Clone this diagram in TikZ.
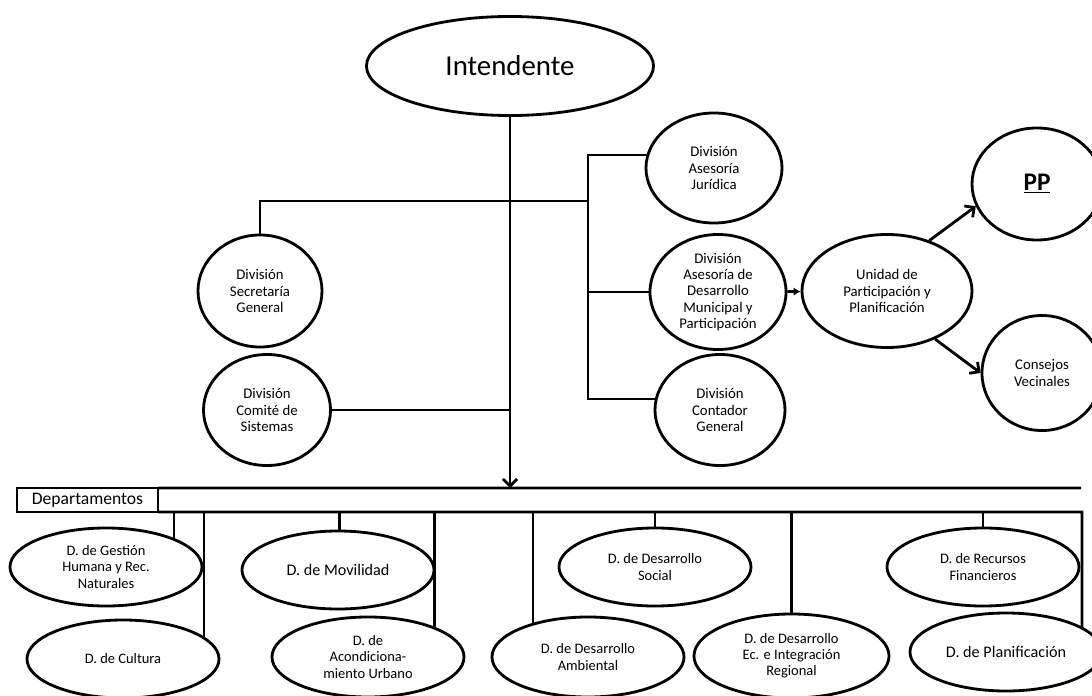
\documentclass[tikz,border=0pt]{standalone}
\usepackage{fontspec}
\setmainfont{Carlito}
\usetikzlibrary{shapes.geometric,arrows.meta,backgrounds}

\begin{document}
\begin{tikzpicture}[x=0.025cm, y=-0.025cm,
    unit/.style={ellipse, draw, line width=2pt, fill=white, inner sep=0pt, align=center, font=\fontsize{10.5}{11.5}\selectfont},
    dept/.style={unit, minimum width=4.8cm, minimum height=1.95cm, font=\fontsize{10.3}{11.5}\selectfont},
    link/.style={line width=2pt},
    barb/.style={line width=2pt, -{Straight Barb[length=5pt,width=10pt]}}]
    \useasboundingbox (0,0) rectangle (1092,696);
    \clip (0,0) rectangle (1092,696);

    % Top
    \node[unit, minimum width=7.175cm, minimum height=2.475cm, font=\fontsize{20.5}{24}\selectfont] (int) at (510,66) {Intendente};

    % Divisions
    \node[unit, minimum width=3.1cm, minimum height=2.8cm] (sec) at (260,291) {División\\Secretaría\\General};
    \node[unit, minimum width=3.175cm, minimum height=2.775cm] (com) at (267,410) {División\\Comité de\\Sistemas};
    \node[unit, minimum width=3.4cm, minimum height=2.75cm] (jur) at (714,168) {División\\Asesoría\\Jurídica};
    \node[unit, minimum width=3.4cm, minimum height=2.875cm] (dm) at (718,292) {División\\Asesoría de\\Desarrollo\\Municipal y\\Participación};
    \node[unit, minimum width=3.25cm, minimum height=2.775cm] (cont) at (720,410) {División\\Contador\\General};
    \node[unit, minimum width=4.25cm, minimum height=2.825cm] (unid) at (887,291) {Unidad de\\Participación y\\Planificación};
    \node[unit, minimum width=3.25cm, minimum height=2.8cm, font=\fontsize{18}{20}\selectfont\bfseries] (pp) at (1037,184) {\underline{PP}};
    \node[unit, minimum width=3cm, minimum height=2.875cm] (cons) at (1042,373) {Consejos\\Vecinales};

    % Departamentos
    \node[draw, line width=2pt, outer sep=0pt, minimum width=3.525cm, minimum height=0.6cm, inner sep=0pt, font=\fontsize{12.5}{14}\selectfont] (dep) at (87.5,500) {Departamentos};

    \node[dept] (gest) at (106,567) {D. de Gestión\\Humana y Rec.\\Naturales};
    \node[dept] (cult) at (123,659) {D. de Cultura};
    \node[dept, font=\fontsize{11.5}{13}\selectfont] (movi) at (338,570) {D. de Movilidad};
    \node[dept, minimum height=2cm] (acon) at (368,657) {D. de\\Acondiciona-\\miento Urbano};
    \node[dept, minimum height=2cm] (amb) at (588,657) {D. de Desarrollo\\Ambiental};
    \node[dept] (soc) at (655,567) {D. de Desarrollo\\Social};
    \node[dept, minimum width=4.875cm, minimum height=2.1cm] (ecin) at (791.5,656) {D. de Desarrollo\\Ec. e Integración\\Regional};
    \node[dept] (recu) at (983,567) {D. de Recursos\\Financieros};
    \node[dept, font=\fontsize{11.5}{13}\selectfont] (plan) at (1006,652) {D. de Planificación};

    % Lines behind the nodes
    \begin{scope}[on background layer]
        \draw[barb] (int) -- (int |- dep.north);
        \coordinate (lt) at (588,201);
        \coordinate (rt) at (588,155);
        \coordinate (rb) at (588,399);
        \draw[link] (sec.center) |- (lt);
        \draw[link] (jur.center |- rt) -- (rt) -- (rb) -- (cont.center |- rb);
        \draw[link] (lt |- dm) -- (dm.center);
        \draw[link] (com.center) -- (com -| int);

        % bar
        \coordinate (topend) at (1081,488);
        \coordinate (b-plan) at (1082,512);
        \draw[link] (dep.north east) -- (topend);
        \draw[link] (dep.south east) -- (b-plan) -- (b-plan |- plan.center);
        \foreach \n/\x in {gest/174, cult/204, movi/339.5, acon/434.5, amb/533, soc/655, ecin/791.5, recu/983} {
            \coordinate (b-\n) at (\x,512);
            \draw[link] (b-\n) -- (b-\n |- \n.center);
        }
    \end{scope}

    % Arrows
    \draw[link, -{Latex[length=5pt,width=6pt]}] (dm) -- (unid);
    \draw[barb] (unid.50) -- (pp.200);
    \draw[barb] (unid.-45) -- (cons.west);
\end{tikzpicture}
\end{document}
